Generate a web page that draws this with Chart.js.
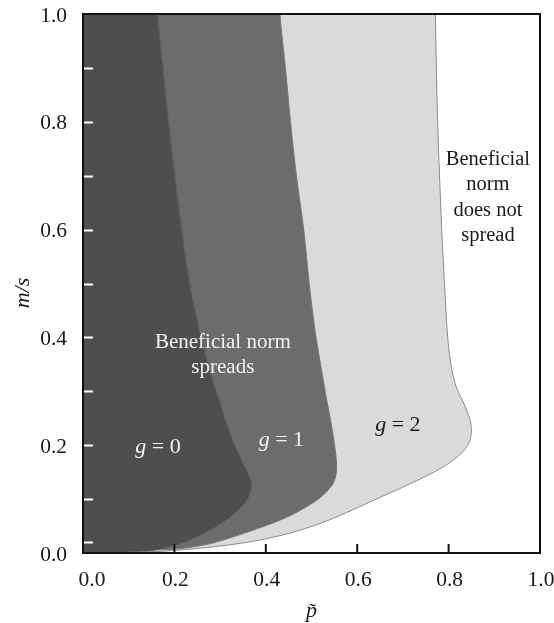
<!DOCTYPE html>
<html>
<head>
<meta charset="utf-8">
<script src="https://cdn.jsdelivr.net/npm/chart.js@4/dist/chart.umd.min.js"></script>
<style>
  html, body { margin: 0; padding: 0; background: #fff; }
  #wrap { width: 554px; height: 623px; }
</style>
</head>
<body>
<div id="wrap"><canvas id="chart" width="554" height="623"></canvas></div>
<script>
// boundary of each region: m/s (top to bottom) and p~
const mG0 = [1.0, 0.9, 0.8, 0.7, 0.6, 0.5, 0.45, 0.4, 0.33, 0.283, 0.246, 0.2, 0.16, 0.13, 0.1, 0.066, 0.036, 0.017, 0.005, 0];
const pG0 = [0.163, 0.175, 0.187, 0.201, 0.216, 0.233, 0.245, 0.258, 0.280, 0.298, 0.312, 0.332, 0.354, 0.368, 0.360, 0.321, 0.263, 0.212, 0.153, 0.09];

const mG1 = [1.0, 0.9, 0.8, 0.7, 0.6, 0.5, 0.45, 0.4, 0.3, 0.22, 0.16, 0.13, 0.1, 0.066, 0.036, 0.017, 0.008, 0];
const pG1 = [0.431, 0.443, 0.454, 0.467, 0.483, 0.495, 0.502, 0.510, 0.530, 0.547, 0.555, 0.548, 0.515, 0.445, 0.350, 0.277, 0.212, 0.10];

const mG2 = [1.0, 0.8, 0.6, 0.5, 0.4, 0.35, 0.31, 0.28, 0.25, 0.227, 0.205, 0.185, 0.16, 0.128, 0.104, 0.08, 0.06, 0.045, 0.032, 0.02, 0.01, 0.003, 0];
const pG2 = [0.771, 0.776, 0.785, 0.791, 0.798, 0.805, 0.816, 0.832, 0.846, 0.850, 0.845, 0.828, 0.789, 0.715, 0.652, 0.590, 0.535, 0.485, 0.430, 0.360, 0.270, 0.170, 0.09];

const xTickLabels = ["0.0", "0.2", "0.4", "0.6", "0.8", "1.0"];
const yTickLabels = ["0.0", "0.2", "0.4", "0.6", "0.8", "1.0"];
const xTickMarks = [0.2, 0.4, 0.6, 0.8];
const yTickMarks = [0.02, 0.1, 0.2, 0.3, 0.4, 0.5, 0.6, 0.7, 0.8, 0.9];

const SERIF = "'Liberation Serif', 'Times New Roman', serif";

// closed shape: left edge of the plot out to the boundary curve
function regionShape(ms, ps) {
  const pts = [{ x: -0.05, y: 1.05 }, { x: ps[0], y: 1.05 }];
  ms.forEach((m, i) => pts.push({ x: ps[i], y: m }));
  pts.push({ x: -0.05, y: -0.05 });
  return pts;
}

function regionDataset(label, ms, ps, fillColor, lineColor) {
  return {
    label: label,
    data: regionShape(ms, ps),
    showLine: true,
    fill: "shape",
    backgroundColor: fillColor,
    borderColor: lineColor,
    borderWidth: 1,
    pointRadius: 0,
    tension: 0.3,
  };
}

// texts placed in data coordinates
const notes = [
  { lines: ["Beneficial", "norm", "does not", "spread"], x: 0.886, y: 0.73, color: "#1a1a1a", size: 20.5, gap: 25.5 },
  { lines: ["Beneficial norm", "spreads"], x: 0.306, y: 0.39, color: "#f2f2f2", size: 21, gap: 25 },
];
const gLabels = [
  { text: "0", x: 0.164, y: 0.196, color: "#f2f2f2" },
  { text: "1", x: 0.434, y: 0.21, color: "#f2f2f2" },
  { text: "2", x: 0.689, y: 0.237, color: "#1a1a1a" },
];

const decorPlugin = {
  id: "decor",
  afterDatasetsDraw(chart) {
    const { ctx } = chart;
    const xs = chart.scales.x, ys = chart.scales.y;
    ctx.save();
    ctx.textAlign = "center";
    ctx.textBaseline = "middle";
    notes.forEach((n) => {
      ctx.font = n.size + "px " + SERIF;
      ctx.fillStyle = n.color;
      const cx = xs.getPixelForValue(n.x);
      const cy = ys.getPixelForValue(n.y);
      n.lines.forEach((ln, i) => ctx.fillText(ln, cx, cy + i * n.gap));
    });
    // "g = n" labels, g in italic
    gLabels.forEach((g) => {
      const cx = xs.getPixelForValue(g.x);
      const cy = ys.getPixelForValue(g.y);
      ctx.fillStyle = g.color;
      ctx.font = "italic 22px " + SERIF;
      const wG = ctx.measureText("g").width;
      ctx.font = "22px " + SERIF;
      const rest = " = " + g.text;
      const wR = ctx.measureText(rest).width;
      const x0 = cx - (wG + wR) / 2;
      ctx.textAlign = "left";
      ctx.font = "italic 22px " + SERIF;
      ctx.fillText("g", x0, cy);
      ctx.font = "22px " + SERIF;
      ctx.fillText(rest, x0 + wG, cy);
      ctx.textAlign = "center";
    });
    ctx.restore();
  },
  afterDraw(chart) {
    const { ctx, chartArea: a } = chart;
    const xs = chart.scales.x, ys = chart.scales.y;
    ctx.save();
    // white inward ticks on the left
    ctx.strokeStyle = "#ffffff";
    ctx.lineWidth = 2;
    yTickMarks.forEach((v) => {
      const y = Math.round(ys.getPixelForValue(v)) + 0.5;
      ctx.beginPath();
      ctx.moveTo(a.left, y);
      ctx.lineTo(a.left + 10, y);
      ctx.stroke();
    });
    // black inward ticks at the bottom
    ctx.strokeStyle = "#111";
    xTickMarks.forEach((v) => {
      const x = xs.getPixelForValue(v);
      ctx.beginPath();
      ctx.moveTo(x, a.bottom);
      ctx.lineTo(x, a.bottom - 9);
      ctx.stroke();
    });
    // frame
    ctx.lineWidth = 2;
    ctx.strokeRect(a.left, a.top, a.right - a.left, a.bottom - a.top);

    // tick labels
    ctx.fillStyle = "#1a1a1a";
    ctx.font = "21.5px " + SERIF;
    ctx.textAlign = "right";
    ctx.textBaseline = "middle";
    yTickLabels.forEach((t) => {
      ctx.fillText(t, a.left - 16, ys.getPixelForValue(parseFloat(t)) + 2);
    });
    ctx.textAlign = "center";
    xTickLabels.forEach((t, i) => {
      const shift = i === 0 ? 9 : 1;
      ctx.fillText(t, xs.getPixelForValue(parseFloat(t)) + shift, a.bottom + 27);
    });

    // axis titles
    ctx.font = "italic 22px " + SERIF;
    ctx.textBaseline = "alphabetic";
    ctx.fillText("p\u0303", (a.left + a.right) / 2, 617);
    ctx.save();
    ctx.translate(29, 293);
    ctx.rotate(-Math.PI / 2);
    ctx.fillText("m/s", 0, 0);
    ctx.restore();
    ctx.restore();
  },
};

new Chart(document.getElementById("chart").getContext("2d"), {
  type: "scatter",
  data: {
    datasets: [
      regionDataset("g = 0", mG0, pG0, "#4e4e4e", "#5c5c5c"),
      regionDataset("g = 1", mG1, pG1, "#6c6c6c", "#787878"),
      regionDataset("g = 2", mG2, pG2, "#dadada", "#8c8c8c"),
    ],
  },
  options: {
    responsive: false,
    animation: false,
    layout: { padding: { left: 83, right: 14, top: 14, bottom: 70 } },
    elements: { line: { capBezierPoints: false } },
    plugins: {
      legend: { display: false },
      tooltip: { enabled: false },
    },
    scales: {
      x: { type: "linear", min: 0, max: 1, display: false },
      y: { type: "linear", min: 0, max: 1, display: false },
    },
  },
  plugins: [decorPlugin],
});
</script>
</body>
</html>
